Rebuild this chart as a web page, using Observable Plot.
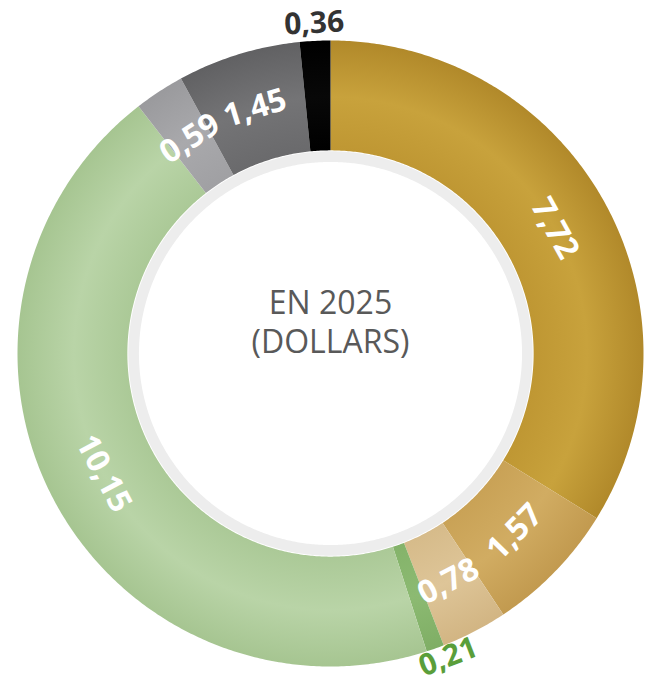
<!DOCTYPE html>
<html><head><meta charset="utf-8">
<script src="https://cdn.jsdelivr.net/npm/d3@7"></script>
<script src="https://cdn.jsdelivr.net/npm/@observablehq/plot@0.6"></script>
<style>body{margin:0;background:#fff;} #chart svg{display:block;}</style>
</head><body><div id="chart"></div>
<script>
// ---- data ----
const categories = ["s1","s2","s3","s4","s5","s6","s7","s8"];
const values = [7.72, 1.57, 0.78, 0.21, 10.15, 0.59, 1.45, 0.36];
const labels = ["7,72","1,57","0,78","0,21","10,15","0,59","1,45","0,36"];
const centerTitle = ["EN 2025", "(DOLLARS)"];

// ---- styles ----
const gradStops = [ // inner, middle, outer
  ["#BF9733","#C8A23C","#B1892A"],
  ["#C9A256","#D1AC62","#C29A4F"],
  ["#D6BB8A","#DEC598","#D2B583"],
  ["#84B36A","#8CBA72","#7FAE65"],
  ["#ABC997","#B9D4A7","#A6C591"],
  ["#A0A0A3","#A9A9AC","#9A9A9D"],
  ["#6A6A6C","#747476","#616163"],
  ["#000000","#080808","#000000"]
];
const outsideColor = {"s4": "#5A9E3A", "s8": "#333333"};
const W = 652, H = 680, CX = 330, CY = 353, R = 313;
const RIN = 0.649, RING_IN = 0.612, LABEL_R = 0.82;

// ---- geometry ----
const total = d3.sum(values);
const pt = (r, deg) => { const a = deg * Math.PI / 180; return [r * Math.sin(a), r * Math.cos(a)]; };
function arcPoly(key, r0, r1, a0, a1) {
  const pts = [];
  const n = Math.max(2, Math.ceil((a1 - a0) / 0.5));
  for (let i = 0; i <= n; i++) { const [x, y] = pt(r1, a0 + (a1 - a0) * i / n); pts.push({k: key, x, y}); }
  if (r0 > 0) for (let i = n; i >= 0; i--) { const [x, y] = pt(r0, a0 + (a1 - a0) * i / n); pts.push({k: key, x, y}); }
  return pts;
}
let cum = 0;
const slices = values.map((v, i) => {
  const a0 = cum / total * 360; cum += v; const a1 = cum / total * 360;
  return {k: categories[i], v, label: labels[i], a0, a1, mid: (a0 + a1) / 2};
});
const slicePts = slices.flatMap(s => arcPoly(s.k, RIN, 1, s.a0, s.a1));
const ringPts = arcPoly("ring", RING_IN, RIN - 0.003, 0, 360);
const shadowPts = arcPoly("shadow", 0, 1, 0, 360).map(d => ({...d, x: d.x + 0.02, y: d.y - 0.028}));

const tangentRot = m => m <= 90 ? m : (m < 270 ? m - 180 : m - 360);
const labelData = slices.map(s => {
  const outside = s.v < 0.5;
  const upper = s.mid > 270 || s.mid < 90;
  // outside labels below the ring sit at the slice's leading edge, where there is more room
  const ang = outside && !upper ? s.a0 : s.mid;
  const r = outside ? (upper ? 1.056 : 1.04) : LABEL_R;
  const [x, y] = pt(r, ang);
  return {...s, x, y, outside, rot: tangentRot(ang)};
});

const chart = Plot.plot({
  width: W, height: H,
  margin: 0,
  x: {domain: [-1, 1], range: [CX - R, CX + R], axis: null},
  y: {domain: [-1, 1], range: [CY + R, CY - R], axis: null},
  color: {type: "ordinal", domain: categories, range: categories.map((_, i) => `url(#g${i})`)},
  marks: [
    Plot.line(shadowPts, {x: "x", y: "y", z: "k", fill: "#000", fillOpacity: 0.14, stroke: "none", ariaLabel: "shadow"}),
    Plot.line(slicePts, {x: "x", y: "y", z: "k", fill: "k", stroke: "none", curve: "linear"}),
    Plot.line(ringPts, {x: "x", y: "y", z: "k", fill: "#EDEDED", stroke: "none"}),
    Plot.text(labelData.filter(d => !d.outside), {
      x: "x", y: "y", text: "label", rotate: "rot", fill: "white",
      fontSize: 32, fontWeight: 700, fontFamily: "Open Sans"
    }),
    ...labelData.filter(d => d.outside).map(d => Plot.text([d], {
      x: "x", y: "y", text: "label", rotate: "rot", fill: outsideColor[d.k],
      fontSize: 30, fontWeight: 700, fontFamily: "Open Sans"
    })),
    Plot.text([centerTitle.join("\n")], {
      x: () => 0, y: () => 0.105, text: d => d, fill: "#595959",
      fontSize: 32, fontWeight: 400, fontFamily: "Open Sans", lineHeight: 1.22
    })
  ]
});

const svg = d3.select(chart);
const defs = svg.insert("defs", ":first-child");
gradStops.forEach((c, i) => {
  const g = defs.append("radialGradient").attr("id", `g${i}`)
    .attr("gradientUnits", "userSpaceOnUse").attr("cx", CX).attr("cy", CY).attr("r", R);
  g.append("stop").attr("offset", RIN).attr("stop-color", c[0]);
  g.append("stop").attr("offset", 0.82).attr("stop-color", c[1]);
  g.append("stop").attr("offset", 1).attr("stop-color", c[2]);
});
const f = defs.append("filter").attr("id", "blur").attr("x", "-20%").attr("y", "-20%").attr("width", "140%").attr("height", "140%");
f.append("feGaussianBlur").attr("stdDeviation", 8);
svg.select('g[aria-label="shadow"]').attr("filter", "url(#blur)");

document.getElementById("chart").appendChild(chart);
</script>
</body></html>
